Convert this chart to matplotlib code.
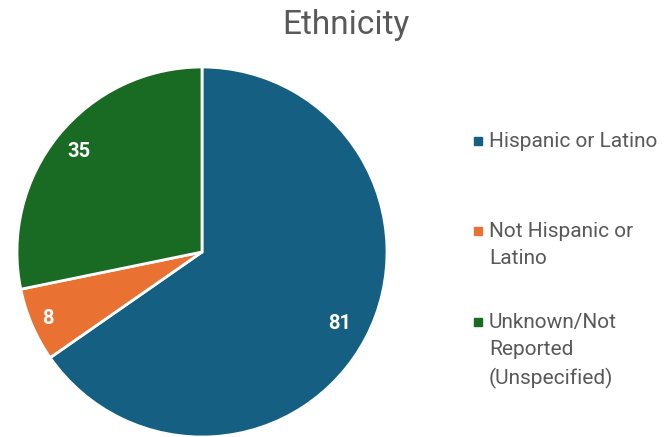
import numpy as np
import matplotlib.pyplot as plt

categories = ["Hispanic or Latino", "Not Hispanic or Latino", "Unknown/Not Reported (Unspecified)"]
legend_labels = ["Hispanic or Latino", "Not Hispanic or\nLatino", "Unknown/Not\nReported\n(Unspecified)"]
counts = [81, 8, 35]
colors = ["#156082", "#E97132", "#196B24"]

plt.rcParams['font.family'] = ['Roboto', 'DejaVu Sans']

fig = plt.figure(figsize=(6.66, 4.37), dpi=100)
ax = fig.add_axes([17 / 666, 0.0, 370 / 666, 370 / 437])

wedges, _ = ax.pie(counts, colors=colors, startangle=90, counterclock=False,
                   wedgeprops=dict(edgecolor='white', linewidth=2))
ax.set_xlim(-1, 1)
ax.set_ylim(-1, 1)
ax.set_aspect('equal')

# data labels inside the wedges
label_r = [0.84, 0.905, 0.86]
for w, n, r in zip(wedges, counts, label_r):
    mid = np.radians((w.theta1 + w.theta2) / 2)
    ax.text(r * np.cos(mid), r * np.sin(mid), str(n), color='white',
            fontsize=14.5, fontweight='bold', ha='center', va='center')

fig.text(346 / 666, 1 - 25 / 437, "Ethnicity", fontsize=24, color='#595959',
         ha='center', va='center')

# legend drawn by hand to match line wrapping
legend_y = [141, 231, 322]
for lab, c, y in zip(legend_labels, colors, legend_y):
    fig.patches.append(plt.Rectangle((474 / 666, 1 - (y + 4) / 437), 8 / 666, 8 / 437,
                                     transform=fig.transFigure, color=c))
    fig.text(489 / 666, 1 - (y - 9) / 437, lab, fontsize=15, color='#595959',
             ha='left', va='top', linespacing=1.55)

fig.savefig('out.png', dpi=100)
